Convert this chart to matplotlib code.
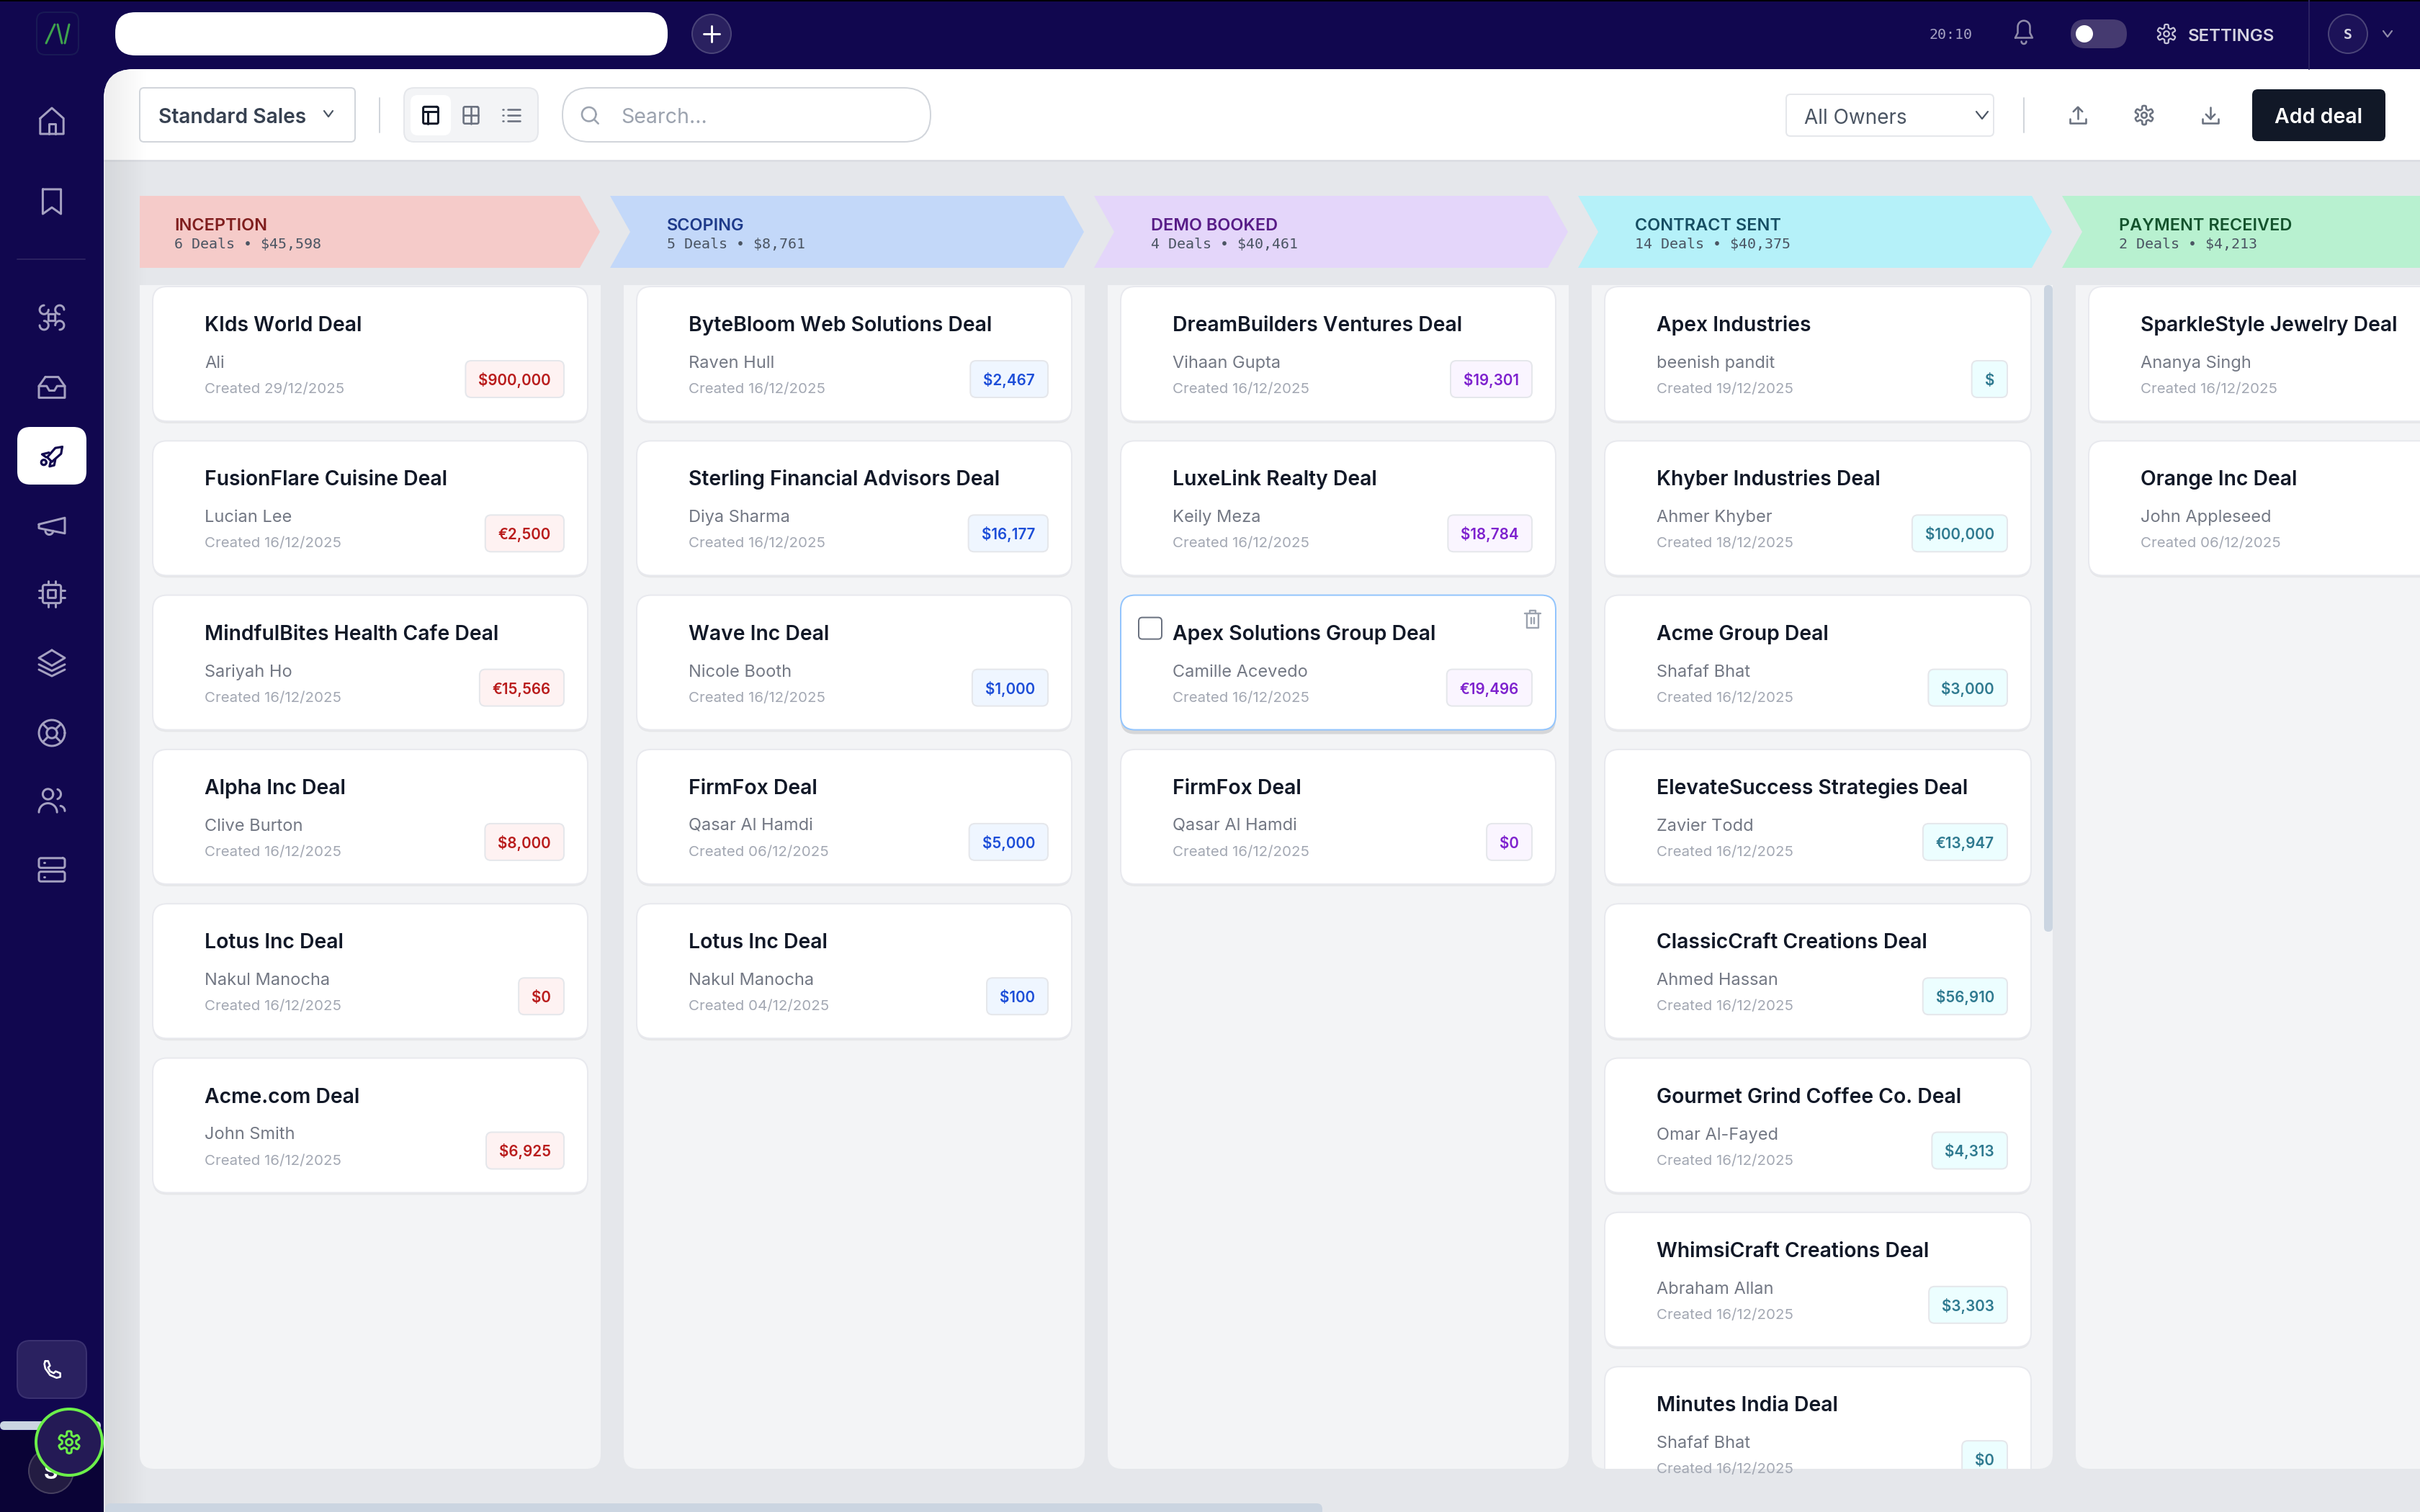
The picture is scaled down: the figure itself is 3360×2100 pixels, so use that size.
import numpy as np
import matplotlib
matplotlib.use('Agg')
import matplotlib.pyplot as plt
from matplotlib.patches import FancyBboxPatch, Circle, Polygon, Rectangle

FONT = 'Inter'
MONO = 'DejaVu Sans Mono'

stage_names = ['INCEPTION', 'SCOPING', 'DEMO BOOKED', 'CONTRACT SENT', 'PAYMENT RECEIVED']
stage_counts = ['6 Deals', '5 Deals', '4 Deals', '14 Deals', '2 Deals']
stage_totals = ['$45,598', '$8,761', '$40,461', '$40,375', '$4,213']
stage_fill = ['#f5cbc9', '#c3d8f9', '#e4d6fa', '#b5f1f9', '#b8f1d0']
stage_text = ['#7f1d1d', '#1e3a8a', '#581c87', '#164e63', '#14532d']
badge_fill = ['#fef2f2', '#eff6ff', '#faf5ff', '#ecfeff', '#f0fdf4']
badge_text = ['#b91c1c', '#1d4ed8', '#7e22ce', '#2f7a90', '#15803d']

inception_titles = ['KIds World Deal', 'FusionFlare Cuisine Deal', 'MindfulBites Health Cafe Deal',
                    'Alpha Inc Deal', 'Lotus Inc Deal', 'Acme.com Deal']
inception_owners = ['Ali', 'Lucian Lee', 'Sariyah Ho', 'Clive Burton', 'Nakul Manocha', 'John Smith']
inception_dates = ['29/12/2025', '16/12/2025', '16/12/2025', '16/12/2025', '16/12/2025', '16/12/2025']
inception_amounts = ['$900,000', '€2,500', '€15,566', '$8,000', '$0', '$6,925']

scoping_titles = ['ByteBloom Web Solutions Deal', 'Sterling Financial Advisors Deal', 'Wave Inc Deal',
                  'FirmFox Deal', 'Lotus Inc Deal']
scoping_owners = ['Raven Hull', 'Diya Sharma', 'Nicole Booth', 'Qasar Al Hamdi', 'Nakul Manocha']
scoping_dates = ['16/12/2025', '16/12/2025', '16/12/2025', '06/12/2025', '04/12/2025']
scoping_amounts = ['$2,467', '$16,177', '$1,000', '$5,000', '$100']

demo_titles = ['DreamBuilders Ventures Deal', 'LuxeLink Realty Deal', 'Apex Solutions Group Deal', 'FirmFox Deal']
demo_owners = ['Vihaan Gupta', 'Keily Meza', 'Camille Acevedo', 'Qasar Al Hamdi']
demo_dates = ['16/12/2025', '16/12/2025', '16/12/2025', '16/12/2025']
demo_amounts = ['$19,301', '$18,784', '€19,496', '$0']

contract_titles = ['Apex Industries', 'Khyber Industries Deal', 'Acme Group Deal', 'ElevateSuccess Strategies Deal',
                   'ClassicCraft Creations Deal', 'Gourmet Grind Coffee Co. Deal', 'WhimsiCraft Creations Deal',
                   'Minutes India Deal']
contract_owners = ['beenish pandit', 'Ahmer Khyber', 'Shafaf Bhat', 'Zavier Todd', 'Ahmed Hassan',
                   'Omar Al-Fayed', 'Abraham Allan', 'Shafaf Bhat']
contract_dates = ['19/12/2025', '18/12/2025', '16/12/2025', '16/12/2025', '16/12/2025', '16/12/2025',
                  '16/12/2025', '16/12/2025']
contract_amounts = ['$', '$100,000', '$3,000', '€13,947', '$56,910', '$4,313', '$3,303', '$0']

payment_titles = ['SparkleStyle Jewelry Deal', 'Orange Inc Deal']
payment_owners = ['Ananya Singh', 'John Appleseed']
payment_dates = ['16/12/2025', '06/12/2025']
payment_amounts = ['', '']

titles = [inception_titles, scoping_titles, demo_titles, contract_titles, payment_titles]
owners = [inception_owners, scoping_owners, demo_owners, contract_owners, payment_owners]
dates = [inception_dates, scoping_dates, demo_dates, contract_dates, payment_dates]
amounts = [inception_amounts, scoping_amounts, demo_amounts, contract_amounts, payment_amounts]

NAVY = '#11074f'
PAGE = '#e5e7eb'
ICON = '#a5a1c1'
GREY = '#6b7280'
INK = '#111827'

fig = plt.figure(figsize=(33.6, 21), dpi=100)
ax = fig.add_axes([0, 0, 1, 1])
ax.set_xlim(0, 3360)
ax.set_ylim(2100, 0)
ax.axis('off')
renderer = fig.canvas.get_renderer()


def pt(v):
    return v * 0.72


def txt(x, y, s, size, color, weight='normal', family=FONT, ha='left', z=10, clip=None):
    t = ax.text(x, y, s, fontsize=pt(size), color=color, fontweight=weight, family=family,
                ha=ha, va='baseline', zorder=z)
    if clip is not None:
        t.set_clip_path(clip)
    return t


def box(x0, y0, x1, y1, r, fc, ec='none', lw=0, z=2, alpha=None, clip=None):
    p = FancyBboxPatch((x0, y0), x1 - x0, y1 - y0, boxstyle='round,pad=0,rounding_size=%s' % r,
                       fc=fc, ec=ec, lw=pt(lw), zorder=z, alpha=alpha)
    ax.add_patch(p)
    if clip is not None:
        p.set_clip_path(clip)
    return p


def line(xs, ys, color, lw=3, z=12):
    ax.plot(xs, ys, color=color, lw=pt(lw), solid_capstyle='round', solid_joinstyle='round', zorder=z)


# icons are drawn on a 24 unit grid around their centre
def stroke(cx, cy, pts, color, s=1.8, lw=3, closed=False, z=12):
    a = np.array(pts, dtype=float)
    if closed:
        a = np.vstack([a, a[:1]])
    line(cx + (a[:, 0] - 12) * s, cy + (a[:, 1] - 12) * s, color, lw, z)


def arc(x, y, r, a0=0, a1=360, n=40):
    t = np.radians(np.linspace(a0, a1, n))
    return np.column_stack([x + r * np.cos(t), y + r * np.sin(t)])


def ring(cx, cy, x, y, r, color, s=1.8, lw=3, z=12):
    stroke(cx, cy, arc(x, y, r), color, s, lw, z=z)


def rrect(x0, y0, x1, y1, r, n=8):
    return np.vstack([arc(x1 - r, y0 + r, r, -90, 0, n), arc(x1 - r, y1 - r, r, 0, 90, n),
                      arc(x0 + r, y1 - r, r, 90, 180, n), arc(x0 + r, y0 + r, r, 180, 270, n)])


def gear(cx, cy, color, s=1.5, lw=3, z=12):
    t = np.linspace(0, 2 * np.pi, 240)
    r = 8.6 + 1.9 * np.tanh(3 * np.cos(6 * t))
    stroke(cx, cy, np.column_stack([12 + r * np.sin(t), 12 + r * np.cos(t)]), color, s, lw, z=z)
    ring(cx, cy, 12, 12, 3, color, s, lw, z)


def chevron(cx, cy, color, w=8, h=5, lw=2.2):
    line([cx - w, cx, cx + w], [cy - h, cy + h, cy - h], color, lw)


# backgrounds
ax.add_patch(Rectangle((0, 0), 3360, 2100, fc=NAVY, ec='none', zorder=0))
ax.add_patch(Rectangle((0, 0), 3360, 2, fc='#000000', ec='none', zorder=1))
ax.add_patch(Rectangle((0, 1987), 144, 113, fc='#0a0336', ec='none', zorder=1))
panel = box(144, 96, 3500, 2300, 42, PAGE, z=1)
toolbar = ax.add_patch(Rectangle((144, 96), 3216, 126, fc='white', ec='none', zorder=1.2))
toolbar.set_clip_path(panel)
ax.add_patch(Rectangle((144, 222), 3216, 3, fc='#dcdee3', ec='none', zorder=1.3))

# soft shadow next to the sidebar
shade = np.zeros((1, 60, 4))
shade[0, :, 3] = np.linspace(0.07, 0.0, 60)
im = ax.imshow(shade, extent=(146, 206, 2100, 96), aspect='auto', zorder=1.4, interpolation='bilinear')
im.set_clip_path(panel)
ax.set_xlim(0, 3360)
ax.set_ylim(2100, 0)

# top bar
box(160, 17, 927, 77, 28, 'white', z=3)
ax.add_patch(Circle((988, 47), 27, fc='#2a2160', ec='#4a4478', lw=pt(2), zorder=3))
line([988, 988], [36, 58], 'white', 3)
line([977, 999], [47, 47], 'white', 3)
box(51, 17, 109, 76, 12, NAVY, ec='#191a55', lw=2, z=3)
line([64, 76], [60, 34], '#3fa34d', 3)
line([80, 86], [34, 60], '#3fa34d', 3)
line([90, 96], [60, 34], '#3fa34d', 3)
txt(2708, 54, '20:10', 20, '#a5a1c1', family=MONO, ha='center')
bell = [(5, 17), (7, 13), (7, 8)] + list(arc(12, 8, 5, 180, 360, 14)) + [(17, 13), (19, 17)]
stroke(2810, 44, bell, '#8f8aa9', 1.7, 2.6, closed=True)
stroke(2810, 44, arc(12, 20, 2, 0, 180, 10), '#8f8aa9', 1.7, 2.6)
box(2875, 27, 2953, 67, 20, '#453a70', z=3)
ax.add_patch(Circle((2894, 47), 12, fc='white', ec='none', zorder=4))
gear(3008, 47, '#c9c6da', 1.25, 2.2)
txt(3038, 57, 'SETTINGS', 24, '#d6d4e2', weight='semibold')
line([3206, 3206], [0, 96], '#2a2160', 2, z=3)
ax.add_patch(Circle((3260, 47), 27, fc='#1c1258', ec='#4a4478', lw=pt(2), zorder=3))
txt(3260, 54, 'S', 20, '#d6d4e2', weight='bold', family=MONO, ha='center')
chevron(3315, 47, '#8f8aa9', 6, 4)

# sidebar icons
x0 = 72
stroke(x0, 168, [(3, 10), (12, 2), (21, 10), (21, 22), (3, 22)], ICON, closed=True)
stroke(x0, 168, [(9.5, 22), (9.5, 14), (14.5, 14), (14.5, 22)], ICON)
stroke(x0, 280, [(5, 2.5), (19, 2.5), (19, 21.5), (12, 16.5), (5, 21.5)], ICON, closed=True)
line([24, 118], [360, 360], '#2a2160', 2, z=3)
for ux, uy, a0 in [(6, 6, 0), (18, 6, 90), (18, 18, 180), (6, 18, 270)]:
    stroke(x0, 441, arc(ux, uy, 3.4, a0, a0 + 270), ICON)
stroke(x0, 441, rrect(9.4, 9.4, 14.6, 14.6, 0.1, 2), ICON, closed=True)
stroke(x0, 538, [(7, 4), (17, 4), (22, 11), (22, 20), (2, 20), (2, 11)], ICON, closed=True)
stroke(x0, 538, [(2, 11), (8, 11), (10, 14.5), (14, 14.5), (16, 11), (22, 11)], ICON)
box(24, 593, 120, 673, 18, 'white', z=3)
stroke(x0, 635, [(21, 3), (20, 9), (12, 16), (8, 12), (15, 4)], NAVY, 1.6, 3.2, closed=True)
stroke(x0, 635, [(9.5, 8), (3.5, 9.5), (7, 12)], NAVY, 1.6, 3.2)
stroke(x0, 635, [(11, 16), (10, 20), (14, 19), (15, 14)], NAVY, 1.6, 3.2)
stroke(x0, 635, arc(5, 16.5, 2.2), NAVY, 1.6, 3.2)
stroke(x0, 730, [(2, 11), (22, 6), (22, 18), (2, 14)], ICON, closed=True)
stroke(x0, 730, arc(10, 16, 3, 0, 180, 10), ICON)
stroke(x0, 825, rrect(5, 5, 19, 19, 1.5), ICON, closed=True)
stroke(x0, 825, rrect(9, 9, 15, 15, 0.2, 2), ICON, closed=True)
for u in (9, 15):
    stroke(x0, 825, [(u, 2), (u, 5)], ICON)
    stroke(x0, 825, [(u, 19), (u, 22)], ICON)
    stroke(x0, 825, [(2, u), (5, u)], ICON)
    stroke(x0, 825, [(19, u), (22, u)], ICON)
stroke(x0, 921, [(12, 2), (22, 8), (12, 14), (2, 8)], ICON, closed=True)
stroke(x0, 921, [(2, 13), (12, 18), (22, 13)], ICON)
stroke(x0, 921, [(2, 17), (12, 22), (22, 17)], ICON)
ring(x0, 1018, 12, 12, 10, ICON)
ring(x0, 1018, 12, 12, 4, ICON)
for a, b, c, d in [(5, 5, 9, 9), (19, 5, 15, 9), (5, 19, 9, 15), (19, 19, 15, 15)]:
    stroke(x0, 1018, [(a, b), (c, d)], ICON)
ring(x0, 1112, 9, 7, 4, ICON)
stroke(x0, 1112, arc(9, 21, 7, 180, 360, 20), ICON)
stroke(x0, 1112, arc(15, 7, 4, -70, 70, 10), ICON)
stroke(x0, 1112, arc(18, 20, 4, -80, 0, 8), ICON)
stroke(x0, 1208, rrect(2, 3, 22, 10.5, 1.5), ICON, closed=True)
stroke(x0, 1208, rrect(2, 13.5, 22, 21, 1.5), ICON, closed=True)
stroke(x0, 1208, [(6, 6.7), (6.2, 6.7)], ICON)
stroke(x0, 1208, [(6, 17.3), (6.2, 17.3)], ICON)

box(24, 1862, 120, 1942, 18, '#2a2160', ec='#3a3170', lw=2, z=3)
phone = [(5, 3), (8, 3), (10, 8), (8, 10), (10, 14), (14, 16), (16, 14), (21, 16), (21, 20), (17, 21), (10, 18), (5, 11), (4, 6)]
stroke(x0, 1902, phone, 'white', 1.3, 2.6, closed=True)
box(0, 1974, 140, 1986, 6, '#cbd5e1', z=3)
ax.add_patch(Circle((71, 2043), 31, fc='#231c42', ec='#46405f', lw=pt(2), zorder=3))
txt(71, 2054, 'S', 30, 'white', weight='bold', ha='center', z=4)
ax.add_patch(Circle((96, 2003), 46, fc='#241a55', ec='#6cf04a', lw=pt(4), zorder=5))
gear(96, 2003, '#6cf04a', 1.45, 3, z=6)

# toolbar
box(194, 122, 493, 197, 6, 'white', ec='#d1d5db', lw=2, z=3)
txt(220, 171, 'Standard Sales', 28.2, '#374151', weight='semibold')
chevron(456, 158, '#4b5563', 6, 4)
line([527, 527], [136, 184], '#d1d5db', 2, z=3)
box(561, 122, 747, 197, 14, '#f3f4f6', ec='#e5e7eb', lw=2, z=3)
box(570, 132, 626, 188, 10, 'white', z=4)
stroke(598, 160, rrect(4, 3, 20, 21, 1.5), INK, 1.3, 3, closed=True)
stroke(598, 160, [(4, 8), (20, 8)], INK, 1.3, 3)
stroke(598, 160, [(9, 8), (9, 21)], INK, 1.3, 3)
stroke(654, 160, rrect(4, 3, 20, 21, 1.5), GREY, 1.3, 2.6, closed=True)
stroke(654, 160, [(4, 12), (20, 12)], GREY, 1.3, 2.6)
stroke(654, 160, [(12, 3), (12, 21)], GREY, 1.3, 2.6)
for uy in (6, 12, 18):
    stroke(710, 160, [(8, uy), (21, uy)], GREY, 1.3, 2.6)
    stroke(710, 160, [(3, uy), (3.3, uy)], GREY, 1.3, 2.6)
box(781, 122, 1292, 197, 37, 'white', ec='#d1d5db', lw=2, z=3)
ring(819, 160, 11, 11, 7.5, '#9ca3af', 1.3, 2.6)
stroke(819, 160, [(17, 17), (21, 21)], '#9ca3af', 1.3, 2.6)
txt(862, 171, 'Search...', 28.5, '#9ca3af')
box(2480, 131, 2768, 189, 6, 'white', ec='#e5e7eb', lw=2, z=3)
txt(2505, 172, 'All Owners', 27.9, '#4b5563')
chevron(2752, 160, '#4b5563', 8, 5)
line([2810, 2810], [136, 184], '#d1d5db', 2, z=3)
stroke(2885, 160, [(3, 16), (3, 21), (21, 21), (21, 16)], GREY, 1.25, 2.6)
stroke(2885, 160, [(12, 16), (12, 3)], GREY, 1.25, 2.6)
stroke(2885, 160, [(7, 8), (12, 3), (17, 8)], GREY, 1.25, 2.6)
gear(2977, 160, GREY, 1.25, 2.6)
stroke(3069, 160, [(3, 16), (3, 21), (21, 21), (21, 16)], GREY, 1.25, 2.6)
stroke(3069, 160, [(12, 3), (12, 16)], GREY, 1.25, 2.6)
stroke(3069, 160, [(7, 11), (12, 16), (17, 11)], GREY, 1.25, 2.6)
box(3127, 124, 3312, 196, 8, INK, z=3)
txt(3219, 171, 'Add deal', 28.5, 'white', weight='semibold', ha='center', z=4)

# stage headers and columns
for i in range(5):
    left = 194 + 672 * i
    tip = 833 + 672 * i
    if i == 0:
        shape = [(left, 272), (tip - 28, 272), (tip, 322), (tip - 28, 372), (left, 372)]
        tx = left + 48
    else:
        nl = 847 + 672 * (i - 1)
        shape = [(nl, 272), (tip - 28, 272), (tip, 322), (tip - 28, 372), (nl, 372), (nl + 28, 322)]
        tx = nl + 79
    ax.add_patch(Polygon(shape, closed=True, fc=stage_fill[i], ec='none', zorder=2))
    txt(tx, 320, stage_names[i], 23.5, stage_text[i], weight='semibold')
    txt(tx, 345, stage_counts[i] + ' • ' + stage_totals[i], 20, '#4b5563', family=MONO)

    col = box(left, 396 - 20, left + 640, 2040, 20, '#f3f4f6', z=1.5)
    top_clip = ax.add_patch(Rectangle((left, 396), 640, 1644, fc='none', ec='none', zorder=1.45))
    col.set_clip_path(top_clip)

    card_w = 592 if i == 3 else 604
    for j, title in enumerate(titles[i]):
        cx = left + 18
        cy = 398 + 214.3 * j
        hover = i == 2 and j == 2
        clip = top_clip
        box(cx, cy + (6 if hover else 3), cx + card_w, cy + 187 + (6 if hover else 3), 20, '#000000', z=2.5,
            alpha=0.12 if hover else 0.05, clip=clip)
        box(cx, cy, cx + card_w, cy + 187, 20, 'white', ec='#93c5fd' if hover else '#e8e9ee', lw=2, z=3, clip=clip)
        tx2 = cx + 72
        txt(tx2, cy + 62, title, 28.3, INK, weight='semibold', clip=clip)
        txt(tx2, cy + 113, owners[i][j], 23.6, '#737884', clip=clip)
        txt(tx2, cy + 148, 'Created ' + dates[i][j], 20.5, '#a3a8b3', clip=clip)
        if amounts[i][j]:
            right = cx + card_w - 33
            t = txt(right - 18, cy + 137, amounts[i][j], 20.6, badge_text[i], weight='semibold', ha='right', clip=clip)
            t.set_zorder(6)
            w = t.get_window_extent(renderer).width
            box(right - 36 - w, cy + 103, right, cy + 154, 8, badge_fill[i], ec='#e5e7eb', lw=2, z=5, clip=clip)
        if hover:
            box(cx + 25, cy + 31, cx + 57, cy + 61, 5, 'white', ec=GREY, lw=2, z=5)
            sx, sy = cx + card_w - 32, cy + 33
            stroke(sx, sy, [(3, 6), (21, 6)], '#9ca3af', 1.2, 2.4)
            stroke(sx, sy, [(9, 6), (9, 2.5), (15, 2.5), (15, 6)], '#9ca3af', 1.2, 2.4)
            stroke(sx, sy, [(5, 6), (5, 22), (19, 22), (19, 6)], '#9ca3af', 1.2, 2.4)
            stroke(sx, sy, [(10, 11), (10, 17)], '#9ca3af', 1.2, 2.4)
            stroke(sx, sy, [(14, 11), (14, 17)], '#9ca3af', 1.2, 2.4)

# scrollbars
box(2838, 396, 2850, 1294, 6, '#cbd5e1', z=4)
box(146, 2088, 1836, 2106, 8, '#cbd5e1', z=4)

fig.savefig('out.png', dpi=100)
